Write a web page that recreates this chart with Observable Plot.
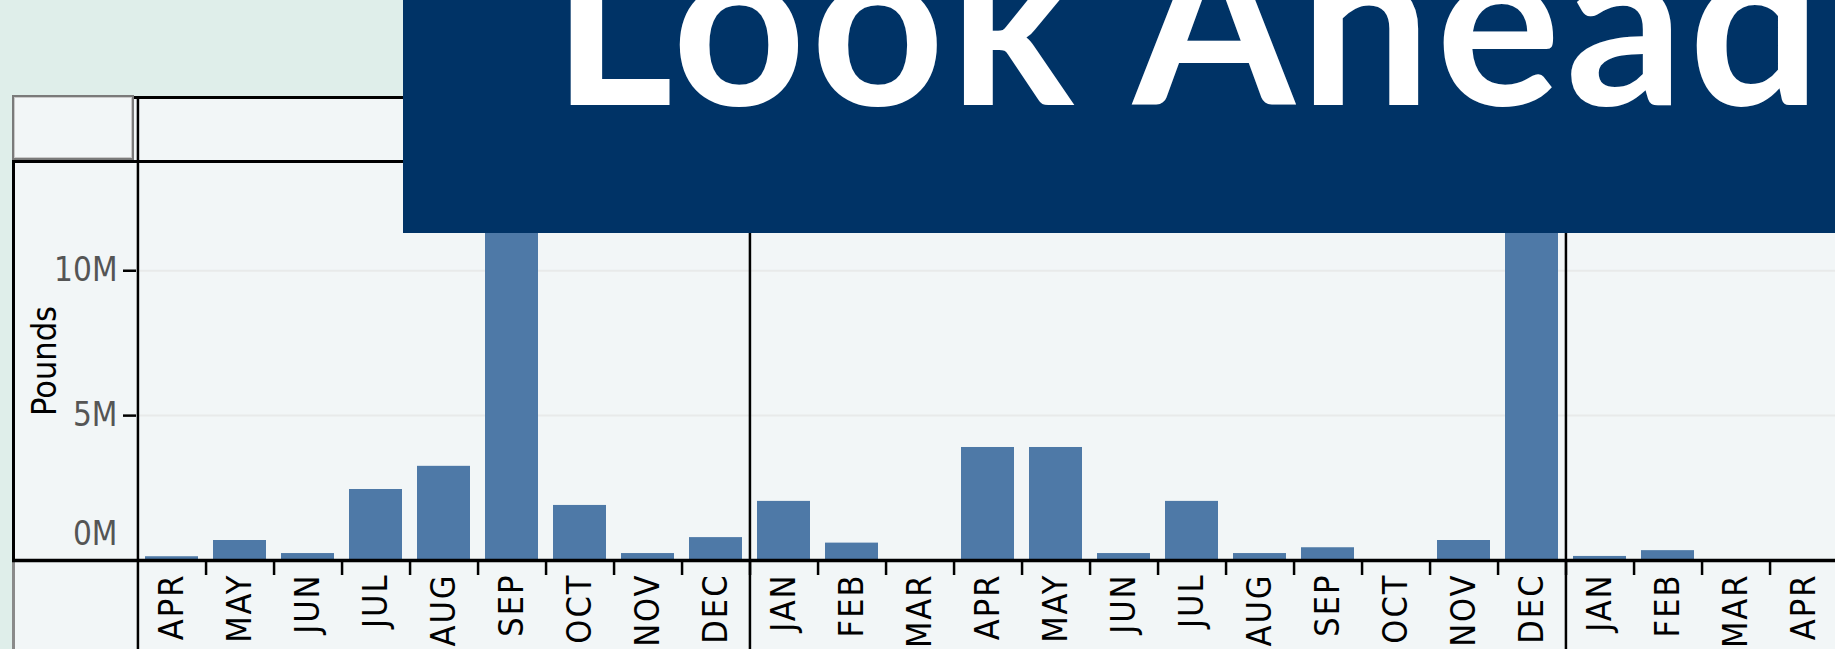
<!DOCTYPE html>
<html>
<head>
<meta charset="utf-8">
<script src="https://cdn.jsdelivr.net/npm/d3@7"></script>
<script src="https://cdn.jsdelivr.net/npm/@observablehq/plot@0.6"></script>
<style>
  html, body { margin: 0; padding: 0; overflow: hidden; background: #dfeeea; }
  #wrap { position: relative; width: 1835px; height: 649px; overflow: hidden; }
  .abs { position: absolute; }
  #chart { position: absolute; left: 0; top: 0; }
  #banner { position: absolute; left: 403px; top: 0; width: 1432px; height: 233px; background: #003366; overflow: hidden; }
  #banner span { position: absolute; left: 149px; top: -101px; font-family: Lato, "Open Sans", sans-serif; font-weight: 700; font-size: 233px; letter-spacing: 5px; line-height: 1; color: #ffffff; white-space: nowrap; }
</style>
</head>
<body>
<div id="wrap">
  <div class="abs" style="left:12px;top:96px;width:1823px;height:553px;background:#f2f6f7"></div>
  <div class="abs" style="left:12px;top:95px;width:118px;height:61px;border:2px solid #7a7a7a;box-shadow:inset 0 0 0 1px #c9c9c9;background:#f2f6f7"></div>
  <div class="abs" style="left:134px;top:96px;width:1701px;height:3px;background:#000"></div>
  <div class="abs" style="left:12px;top:160px;width:1823px;height:3px;background:#000"></div>
  <div class="abs" style="left:12px;top:160px;width:3px;height:400px;background:#000"></div>
  <div class="abs" style="left:12px;top:560px;width:3px;height:89px;background:#8a8a8a"></div>
  <div id="chart"></div>
  <div id="banner"><span>Look Ahead</span></div>
</div>
<script>
// ---- data ----
const months1 = ["APR","MAY","JUN","JUL","AUG","SEP","OCT","NOV","DEC"];
const pounds1 = [130000, 690000, 240000, 2450000, 3250000, 13000000, 1900000, 240000, 790000];
const months2 = ["JAN","FEB","MAR","APR","MAY","JUN","JUL","AUG","SEP","OCT","NOV","DEC"];
const pounds2 = [2040000, 600000, 0, 3900000, 3900000, 240000, 2040000, 240000, 440000, 0, 690000, 13300000];
const months3 = ["JAN","FEB","MAR","APR"];
const pounds3 = [140000, 340000, 0, 0];
const yTicks = [0, 5000000, 10000000];
const yLabel = "Pounds";

// ---- build table ----
const years = [[months1, pounds1], [months2, pounds2], [months3, pounds3]];
const rows = [];
years.forEach(([ms, ps], yi) => ms.forEach((m, i) => rows.push({key: `${yi}-${m}`, month: m, pounds: ps[i], first: i === 0})));
const keys = rows.map(d => d.key);
const firstKeys = rows.filter(d => d.first).map(d => d.key);

const W = 1835, H = 649, mL = 136, mR = -4, mT = 161, mB = 89;
const step = (W - mL - mR) / keys.length;
const frameH = H - mT - mB;
const font = "'DejaVu Sans Condensed', 'DejaVu Sans', sans-serif";

const chart = Plot.plot({
  width: W, height: H,
  marginLeft: mL, marginRight: mR, marginTop: mT, marginBottom: mB,
  style: {background: "transparent", fontFamily: font, overflow: "visible"},
  x: {type: "band", domain: keys, paddingInner: 0.22, paddingOuter: 0.11, axis: null},
  y: {domain: [0, 13770000], axis: null},
  marks: [
    Plot.ruleY(yTicks.filter(d => d > 0), {stroke: "#e8eaea", strokeWidth: 2}),
    Plot.barY(rows, {x: "key", y: "pounds", fill: "#4e79a7"}),
    Plot.ruleX(rows, {x: "key", dx: step / 2, insetTop: frameH, insetBottom: -15, stroke: "#000", strokeWidth: 2.5}),
    Plot.ruleX(firstKeys, {dx: -step / 2, insetTop: -65, insetBottom: -mB, stroke: "#000", strokeWidth: 2.5}),
    Plot.ruleY([0], {insetLeft: -124, stroke: "#000", strokeWidth: 3.5}),
    Plot.ruleY(yTicks.filter(d => d > 0), {insetLeft: -13, insetRight: W - mL - mR, stroke: "#000", strokeWidth: 2.5}),
    Plot.text(yTicks.filter(d => d > 0), {y: d => d, text: d => `${d / 1e6}M`, frameAnchor: "left", textAnchor: "end", dx: -19, fontSize: 33, fill: "#555"}),
    Plot.text(yTicks.filter(d => d === 0), {y: d => d, text: d => `${d / 1e6}M`, frameAnchor: "left", textAnchor: "end", dx: -19, dy: -26, fontSize: 33, fill: "#555"}),
    Plot.text([yLabel], {text: d => d, frameAnchor: "left", dx: 45 - mL, rotate: -90, textAnchor: "middle", lineAnchor: "middle", fontSize: 34, fill: "#000", style: "letter-spacing:1.5px"}),
    Plot.text(rows, {x: "key", text: "month", frameAnchor: "bottom", rotate: -90, textAnchor: "end", lineAnchor: "middle", dy: 13, fontSize: 34, fill: "#000"})
  ]
});
chart.querySelectorAll("text").forEach(t => { if (t.textContent.length === 3 && /^[A-Z]+$/.test(t.textContent)) t.setAttribute("letter-spacing", "2"); });
document.getElementById("chart").appendChild(chart);
</script>
</body>
</html>
